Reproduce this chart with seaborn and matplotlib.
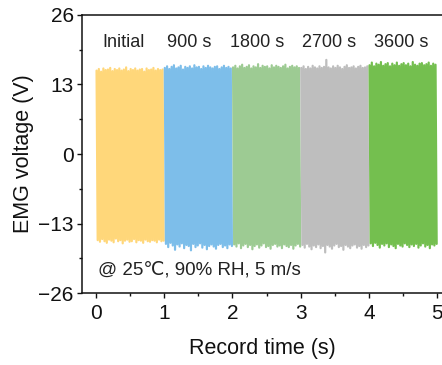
import numpy as np
import pandas as pd
import matplotlib
matplotlib.use("Agg")
import matplotlib.pyplot as plt
import seaborn as sns
from matplotlib.ticker import MultipleLocator

# ---- data (peak envelopes) ----
labels = ["Initial", "900 s", "1800 s", "2700 s", "3600 s"]
colors = ["#FFD77A", "#7DBEEA", "#9DCB93", "#BEBEBE", "#74BF4F"]

initial_up = [15.6,15.9,15.4,16.0,15.7,15.8,16.1,15.5,15.9,15.7,16.0,15.6,15.8,16.2,15.5,
              15.9,15.7,16.0,15.6,15.8,15.9,15.4,16.0,15.7,15.8,16.1,15.6,15.9,15.7,15.8]
initial_lo = [-16.1,-16.4,-15.9,-16.3,-16.6,-16.0,-16.2,-16.5,-15.8,-16.3,-16.1,-16.7,-16.2,-16.0,-16.4,
              -16.3,-15.9,-16.5,-16.1,-16.2,-16.6,-16.0,-16.3,-16.4,-16.1,-16.2,-16.5,-16.0,-16.3,-16.2]
s900_up = [16.1,16.4,15.9,16.3,16.6,16.0,16.2,16.5,15.8,16.3,16.1,16.4,16.0,16.6,16.2,
           16.3,15.9,16.4,16.1,16.5,16.2,16.0,16.3,16.4,15.9,16.2,16.5,16.1,16.3,16.0]
s900_lo = [-16.8,-17.4,-16.6,-17.1,-17.9,-16.9,-17.3,-16.7,-17.6,-17.0,-17.2,-18.0,-16.8,-17.4,-17.1,
           -16.7,-17.5,-17.0,-17.8,-17.2,-16.9,-17.3,-17.7,-17.0,-16.8,-17.4,-17.1,-17.6,-16.9,-17.2]
s1800_up = [16.2,16.5,16.0,16.4,16.7,16.1,16.3,16.6,16.0,16.4,16.2,16.8,16.1,16.5,16.3,
            16.4,16.0,16.6,16.2,16.5,16.3,16.1,16.4,16.7,16.0,16.3,16.5,16.2,16.4,16.1]
s1800_lo = [-16.9,-17.3,-16.7,-17.6,-17.1,-16.8,-17.4,-17.0,-17.8,-17.2,-16.9,-17.5,-17.1,-16.7,-17.4,
            -17.2,-17.7,-17.0,-16.8,-17.3,-17.1,-17.6,-16.9,-17.2,-17.4,-17.0,-17.7,-17.1,-16.8,-17.3]
s2700_up = [16.1,16.4,15.9,16.3,16.0,16.5,16.2,16.0,16.4,16.1,16.3,17.6,16.2,16.0,16.4,
            16.1,16.5,16.2,15.9,16.3,16.6,16.1,16.2,16.4,16.0,16.3,16.5,16.1,16.2,16.4]
s2700_lo = [-17.0,-17.5,-16.8,-17.3,-17.8,-17.1,-17.4,-16.9,-17.6,-17.2,-18.4,-17.0,-17.3,-17.7,-17.1,
            -16.8,-17.4,-17.2,-17.9,-17.0,-17.3,-17.6,-17.1,-16.9,-17.5,-17.2,-17.7,-17.0,-17.4,-17.1]
s3600_up = [16.6,17.1,16.4,16.9,16.7,17.2,16.5,16.8,17.0,16.4,16.9,16.6,17.1,16.5,16.8,
            17.0,16.6,16.9,16.4,17.2,16.7,16.5,16.9,17.0,16.6,16.8,17.1,16.5,16.9,16.7]
s3600_lo = [-16.7,-17.2,-16.6,-17.0,-17.5,-16.8,-17.1,-16.7,-17.4,-16.9,-17.2,-17.6,-16.8,-17.1,-17.3,
            -16.7,-17.0,-17.4,-16.9,-17.2,-16.8,-17.5,-17.1,-16.7,-17.3,-17.0,-17.6,-16.9,-17.1,-16.8]

segments_up = [initial_up, s900_up, s1800_up, s2700_up, s3600_up]
segments_lo = [initial_lo, s900_lo, s1800_lo, s2700_lo, s3600_lo]

x_ticks = [0, 1, 2, 3, 4, 5]
y_ticks = [-26, -13, 0, 13, 26]
y_ticklabels = ["\u221226", "\u221213", "0", "13", "26"]
note = "@ 25\u2103, 90% RH, 5 m/s"

# ---- build long table ----
rows = []
for k, (up, lo) in enumerate(zip(segments_up, segments_lo)):
    vals = np.empty(2 * len(up))
    vals[0::2] = up
    vals[1::2] = lo
    n = len(vals)
    t = k + (np.arange(n) + 0.5) / n
    for ti, v in zip(t, vals):
        rows.append({"t": ti, "v": v, "seg": labels[k]})
df = pd.DataFrame(rows)

sns.set_theme(style="ticks")
plt.rcParams["font.family"] = ["Liberation Sans", "DejaVu Sans"]

fig = plt.figure(figsize=(4.42, 3.65), dpi=100)
ax = fig.add_axes([0.1855, 0.197, 0.8145, 0.762])

sns.lineplot(data=df, x="t", y="v", hue="seg", palette=colors, estimator=None,
             sort=False, linewidth=1.6, legend=False, ax=ax)

label_x = [0.40, 1.37, 2.36, 3.41, 4.47]
for lx, lab in zip(label_x, labels):
    ax.text(lx, 20.9, lab, ha="center", va="center", fontsize=13, color="#222222")
ax.text(0.03, -21.6, note, ha="left", va="center", fontsize=13.5,
        color="#222222", family=["Liberation Sans", "DejaVu Sans"])

ax.set_xlim(-0.205, 5.07)
ax.set_ylim(-26, 26)
ax.set_xticks(x_ticks)
ax.set_yticks(y_ticks)
ax.set_yticklabels(y_ticklabels)
ax.xaxis.set_minor_locator(MultipleLocator(0.5))
ax.yaxis.set_minor_locator(MultipleLocator(6.5))
ax.tick_params(which="major", direction="out", length=3.6, width=1, labelsize=15, colors="#111111")
ax.tick_params(which="minor", direction="out", length=2.2, width=1, colors="#111111")
ax.tick_params(axis="x", which="major", pad=4)
ax.tick_params(axis="y", which="major", pad=2.4)
ax.set_xlabel("Record time (s)", fontsize=15.5, color="#111111", labelpad=11)
ax.set_ylabel("EMG voltage (V)", fontsize=15.5, color="#111111", labelpad=3)
for side in ["left", "bottom", "top"]:
    ax.spines[side].set_visible(True)
    ax.spines[side].set_linewidth(1.1)
    ax.spines[side].set_color("#111111")
ax.spines["right"].set_visible(False)
ax.tick_params(top=False, right=False)

fig.savefig("out.png", dpi=100)
